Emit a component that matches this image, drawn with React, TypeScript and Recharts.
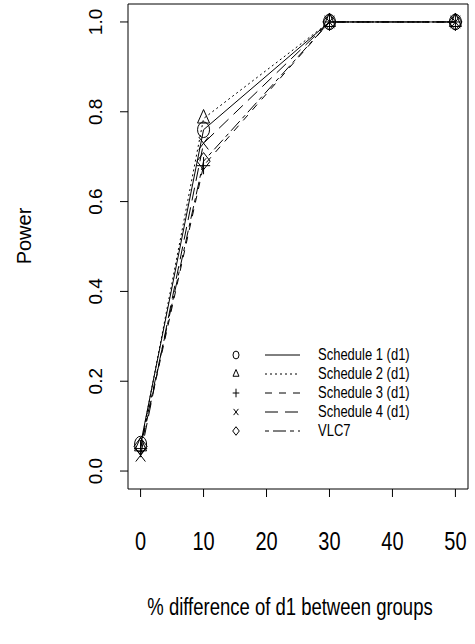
import React from "react";
import { LineChart, Line, XAxis, YAxis, ReferenceArea } from "recharts";

const xs = [0, 10, 30, 50];
const schedule1 = [0.06, 0.76, 1, 1];
const schedule2 = [0.055, 0.785, 1, 1];
const schedule3 = [0.05, 0.68, 1, 1];
const schedule4 = [0.035, 0.73, 1, 1];
const vlc7 = [0.055, 0.69, 1, 1];

const seriesNames = ["Schedule 1 (d1)", "Schedule 2 (d1)", "Schedule 3 (d1)", "Schedule 4 (d1)", "VLC7"];
const xTicks = [0, 10, 20, 30, 40, 50];
const yTicks = [0, 0.2, 0.4, 0.6, 0.8, 1];

const W = 475;
const H = 644;
const FONT = '"Liberation Sans", Arial, Helvetica, sans-serif';
const SY = 1.3; // the picture is a bit taller than it is wide

const data = xs.map((x, i) => ({
  x,
  s1: schedule1[i],
  s2: schedule2[i],
  s3: schedule3[i],
  s4: schedule4[i],
  v: vlc7[i],
}));

type Shape = "circle" | "triangle" | "plus" | "cross" | "diamond";

const series: { key: string; shape: Shape; dash?: string }[] = [
  { key: "s1", shape: "circle" },
  { key: "s2", shape: "triangle", dash: "2 3" },
  { key: "s3", shape: "plus", dash: "7 7" },
  { key: "s4", shape: "cross", dash: "13 7" },
  { key: "v", shape: "diamond", dash: "4 4 13 4" },
];

const Marker = ({ shape, cx, cy, r }: { shape: Shape; cx: number; cy: number; r: number }) => {
  let el: React.ReactNode = null;
  const ve = { vectorEffect: "non-scaling-stroke" as const };
  if (shape === "circle") el = <circle r={r} {...ve} />;
  if (shape === "triangle")
    el = <polygon points={`0,${-1.15 * r} ${r},${0.58 * r} ${-r},${0.58 * r}`} {...ve} />;
  if (shape === "plus")
    el = <path d={`M${-r * 1.1},0H${r * 1.1}M0,${-r * 1.1}V${r * 1.1}`} {...ve} />;
  if (shape === "cross")
    el = <path d={`M${-r * 0.8},${-r * 0.8}L${r * 0.8},${r * 0.8}M${-r * 0.8},${r * 0.8}L${r * 0.8},${-r * 0.8}`} {...ve} />;
  if (shape === "diamond")
    el = <polygon points={`0,${-r * 1.1} ${r * 1.1},0 0,${r * 1.1} ${-r * 1.1},0`} {...ve} />;
  return (
    <g transform={`translate(${cx},${cy}) scale(1,${SY})`} fill="none" stroke="#000" strokeWidth={1}>
      {el}
    </g>
  );
};

const renderDot = (shape: Shape) => (p: any) => (
  <Marker key={`${shape}-${p.index}`} shape={shape} cx={p.cx} cy={p.cy} r={6} />
);

const XTick = (props: any) => {
  const { x, y, payload } = props;
  return (
    <text
      transform={`translate(${x},${y + 42}) scale(1,${SY})`}
      textAnchor="middle"
      dominantBaseline="central"
      fontSize={20}
      fontFamily={FONT}
      fill="#000"
    >
      {payload.value}
    </text>
  );
};

const YTick = (props: any) => {
  const { x, y, payload } = props;
  return (
    <text
      transform={`translate(${x - 23},${y}) rotate(-90)`}
      textAnchor="middle"
      dominantBaseline="central"
      fontSize={19}
      fontFamily={FONT}
      fill="#000"
    >
      {Number(payload.value).toFixed(1)}
    </text>
  );
};

const XTitle = () => (
  <text
    transform={`translate(290,607) scale(1,${SY})`}
    textAnchor="middle"
    dominantBaseline="central"
    fontSize={18.5}
    fontFamily={FONT}
    fill="#000"
  >
    % difference of d1 between groups
  </text>
);

const YTitle = () => (
  <text
    transform="translate(24,236) rotate(-90)"
    textAnchor="middle"
    dominantBaseline="central"
    fontSize={20}
    fontFamily={FONT}
    fill="#000"
  >
    Power
  </text>
);

const LegendBox = () => (
  <svg width={W} height={H} style={{ position: "absolute", left: 0, top: 0, pointerEvents: "none" }}>
    {series.map((s, i) => {
      const y = 355 + i * 19;
      return (
        <g key={s.key}>
          <Marker shape={s.shape} cx={236} cy={y} r={3} />
          <line x1={265} x2={300} y1={y} y2={y} stroke="#000" strokeWidth={1} strokeDasharray={s.dash} />
          <text
            transform={`translate(318,${y}) scale(1,1.2)`}
            dominantBaseline="central"
            fontSize={13}
            fontFamily={FONT}
            fill="#000"
          >
            {seriesNames[i]}
          </text>
        </g>
      );
    })}
  </svg>
);

export default function App() {
  return (
    <div style={{ position: "absolute", left: 0, top: 0, width: W, height: H, background: "#fff" }}>
      <LineChart width={W} height={H} data={data} margin={{ top: 4, right: 7, bottom: 0, left: 0 }}>
        <XAxis
          dataKey="x"
          type="number"
          domain={[-2, 52]}
          ticks={xTicks}
          interval={0}
          allowDataOverflow
          axisLine={false}
          tickLine={{ stroke: "#000" }}
          tickSize={8}
          tick={<XTick />}
          height={155}
          label={<XTitle />}
        />
        <YAxis
          type="number"
          domain={[-0.04, 1.04]}
          ticks={yTicks}
          interval={0}
          allowDataOverflow
          axisLine={false}
          tickLine={{ stroke: "#000" }}
          tickSize={8}
          tick={<YTick />}
          width={128}
          label={<YTitle />}
        />
        <ReferenceArea x1={-2} x2={52} y1={-0.04} y2={1.04} fill="none" stroke="#000" strokeWidth={1} ifOverflow="visible" />
        {series.map((s) => (
          <Line
            key={s.key}
            dataKey={s.key}
            stroke="#000"
            strokeWidth={1}
            strokeDasharray={s.dash}
            dot={renderDot(s.shape)}
            activeDot={false}
            isAnimationActive={false}
          />
        ))}
      </LineChart>
      <LegendBox />
    </div>
  );
}
